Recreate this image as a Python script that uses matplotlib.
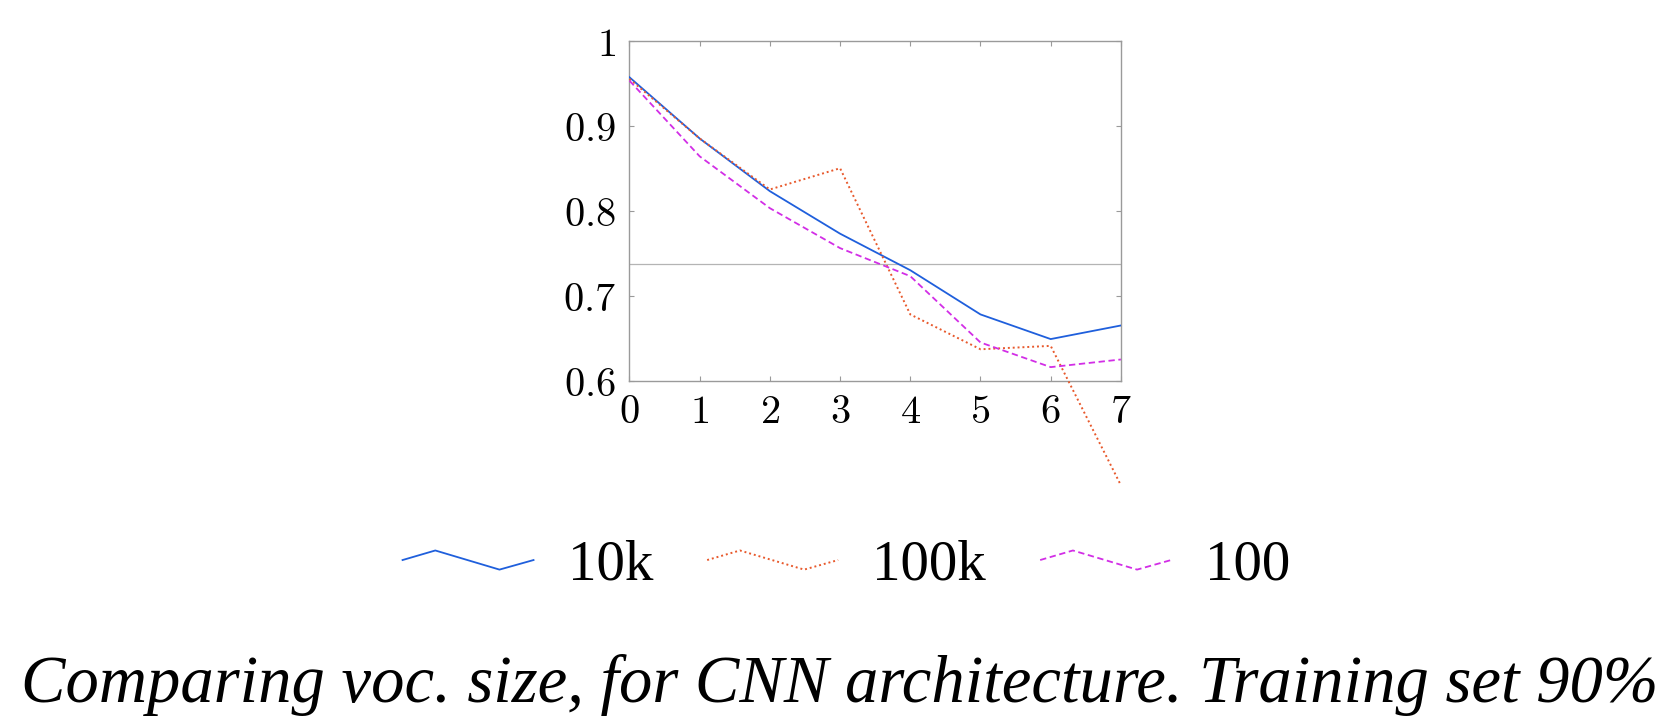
import numpy as np
import matplotlib
matplotlib.use("Agg")
import matplotlib.pyplot as plt
from matplotlib.lines import Line2D
from matplotlib.legend_handler import HandlerBase

plt.rcParams['mathtext.fontset'] = 'cm'

# accuracy per epoch for each vocabulary size
epochs = [0, 1, 2, 3, 4, 5, 6, 7]
acc_10k = [0.957, 0.885, 0.823, 0.773, 0.730, 0.678, 0.649, 0.665]
acc_100k = [0.955, 0.885, 0.825, 0.850, 0.678, 0.637, 0.641, 0.477]
acc_100 = [0.953, 0.864, 0.803, 0.756, 0.723, 0.645, 0.616, 0.625]
baseline = 0.737

series_names = ['10k', '100k', '100']
xtick_labels = ['0', '1', '2', '3', '4', '5', '6', '7']
ytick_vals = [0.6, 0.7, 0.8, 0.9, 1.0]
ytick_labels = ['0.6', '0.7', '0.8', '0.9', '1']
caption = 'Comparing voc. size, for CNN architecture. Training set 90%'


class ZigzagHandler(HandlerBase):
    # pgfplots-like "sharp plot" legend glyph
    def create_artists(self, legend, orig_handle, xdescent, ydescent,
                       width, height, fontsize, trans):
        xs = np.array([0.0, 0.25, 0.74, 1.0]) * width - xdescent
        ym = height / 2 - ydescent
        ys = ym + np.array([0.0, 0.24, -0.24, 0.0]) * height
        line = Line2D(xs, ys)
        self.update_prop(line, orig_handle, legend)
        line.set_transform(trans)
        return [line]


fig = plt.figure(figsize=(16.79, 7.27), dpi=100)
ax = fig.add_axes([0.3749, 0.4763, 0.2927, 0.4677])

gray = '#9a9a9a'
ax.axhline(baseline, color='#b4b4b4', lw=0.9, zorder=1)

l1, = ax.plot(epochs, acc_10k, color='#1f5fdc', lw=1.3, label=series_names[0], zorder=3)
l2, = ax.plot(epochs, acc_100k, color='#e8592c', lw=1.4, ls=(0, (1, 1.5)),
              label=series_names[1], clip_on=False, zorder=3)
l3, = ax.plot(epochs, acc_100, color='#d22ee6', lw=1.3, ls=(0, (3.5, 2)),
              label=series_names[2], zorder=3)

ax.set_xlim(0, 7)
ax.set_ylim(0.6, 1.0)
ax.set_xticks(epochs)
ax.set_xticklabels(['$%s$' % t for t in xtick_labels])
ax.set_yticks(ytick_vals)
ax.set_yticklabels(['$%s$' % t for t in ytick_labels])

for sp in ax.spines.values():
    sp.set_color(gray)
    sp.set_linewidth(1.0)
ax.tick_params(axis='both', which='major', direction='in', length=3.5, width=0.8,
               color=gray, labelsize=29, top=True, right=True)
ax.tick_params(axis='x', pad=8)
ax.tick_params(axis='y', pad=10)

fig.legend(handles=[l1, l2, l3], labels=series_names, ncol=3, frameon=False,
           loc='center', bbox_to_anchor=(0.5042, 0.2215),
           prop={'family': 'Liberation Serif', 'size': 41},
           handlelength=2.3, handletextpad=0.6, columnspacing=0.95,
           handler_map={Line2D: ZigzagHandler()})

cap = fig.text(0.5, 1 - 702 / 727, caption, ha='center', va='baseline',
               fontsize=51, family='Liberation Serif', style='italic')

# shrink the caption so it spans about 1640 px across the figure
fig.canvas.draw()
w = cap.get_window_extent().width
cap.set_fontsize(51 * 1640 / w)

fig.savefig('out.png', dpi=100)
